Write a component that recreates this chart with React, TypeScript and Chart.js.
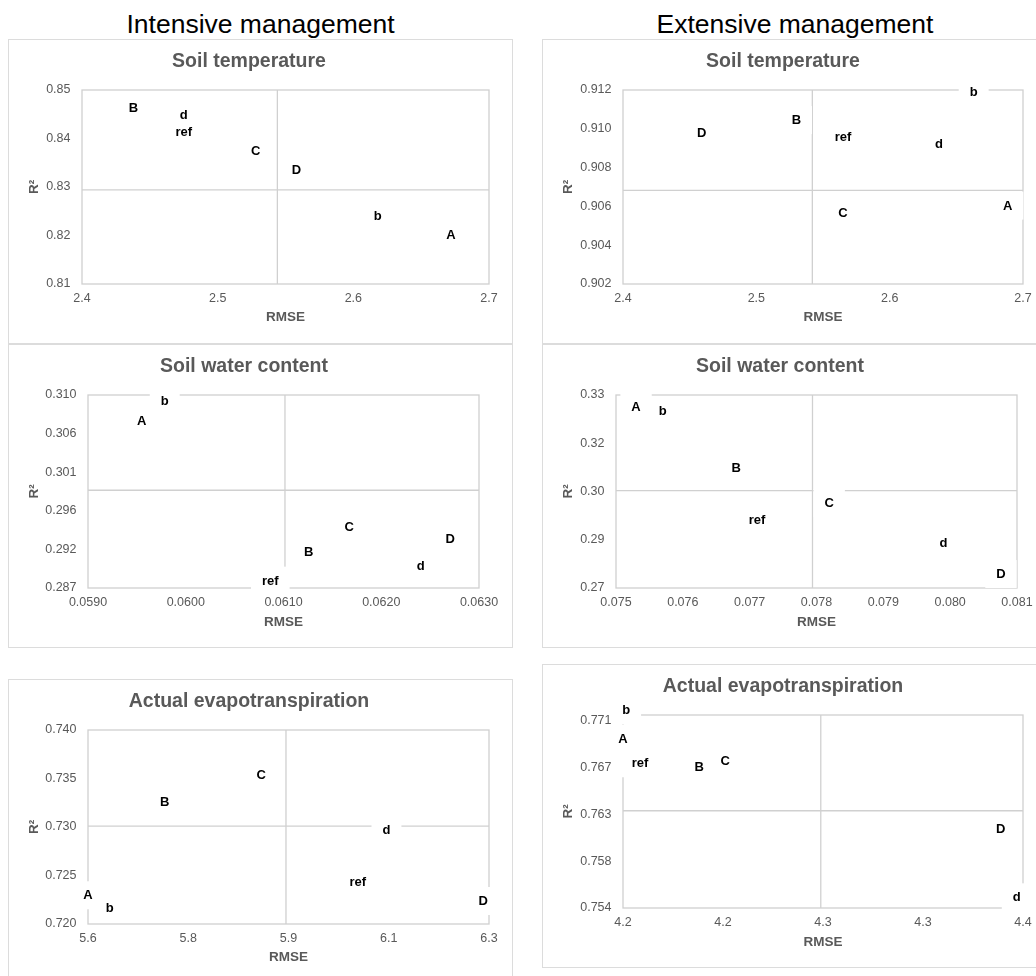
import React, { useEffect, useRef } from "react";
import { Chart, registerables } from "chart.js";

Chart.register(...registerables);

const FONT = '"Liberation Sans", Arial, Helvetica, sans-serif';

// point names, same order in every panel
const pointNames = ["ref", "A", "b", "B", "C", "d", "D"];

// ---------- Intensive management ----------
// Soil temperature
const stIntRmse = [2.475, 2.672, 2.618, 2.438, 2.528, 2.475, 2.558];
const stIntR2 = [0.8413, 0.8202, 0.824, 0.8464, 0.8374, 0.8448, 0.8335];
const stIntCross = [2.544, 0.8294];
const stIntXRange = [2.4, 2.7];
const stIntYRange = [0.81, 0.85];
const stIntXTicks = [2.4, 2.5, 2.6, 2.7];
const stIntXTickLabels = ["2.4", "2.5", "2.6", "2.7"];
const stIntYTicks = [0.81, 0.82, 0.83, 0.84, 0.85];
const stIntYTickLabels = ["0.81", "0.82", "0.83", "0.84", "0.85"];

// Soil water content
const swcIntRmse = [0.060865, 0.059549, 0.059785, 0.061258, 0.061673, 0.062404, 0.062706];
const swcIntR2 = [0.28774, 0.3071, 0.30956, 0.29121, 0.29425, 0.28948, 0.29279];
const swcIntCross = [0.061015, 0.2987];
const swcIntXRange = [0.059, 0.063];
const swcIntYRange = [0.28685, 0.31025];
const swcIntXTicks = [0.059, 0.06, 0.061, 0.062, 0.063];
const swcIntXTickLabels = ["0.0590", "0.0600", "0.0610", "0.0620", "0.0630"];
const swcIntYTicks = [0.28685, 0.29153, 0.29621, 0.30089, 0.30557, 0.31025];
const swcIntYTickLabels = ["0.287", "0.292", "0.296", "0.301", "0.306", "0.310"];

// Actual evapotranspiration
const aetIntRmse = [6.071, 5.6, 5.638, 5.734, 5.9025, 6.121, 6.29];
const aetIntR2 = [0.7243, 0.72296, 0.72162, 0.73255, 0.73536, 0.72966, 0.72237];
const aetIntCross = [5.9456, 0.7301];
const aetIntXRange = [5.6, 6.3];
const aetIntYRange = [0.72, 0.74];
const aetIntXTicks = [5.6, 5.775, 5.95, 6.125, 6.3];
const aetIntXTickLabels = ["5.6", "5.8", "5.9", "6.1", "6.3"];
const aetIntYTicks = [0.72, 0.725, 0.73, 0.735, 0.74];
const aetIntYTickLabels = ["0.720", "0.725", "0.730", "0.735", "0.740"];

// ---------- Extensive management ----------
// Soil temperature
const stExtRmse = [2.565, 2.6885, 2.663, 2.53, 2.565, 2.637, 2.459];
const stExtR2 = [0.90958, 0.90604, 0.91188, 0.91045, 0.90568, 0.9092, 0.90977];
const stExtCross = [2.542, 0.90683];
const stExtXRange = [2.4, 2.7];
const stExtYRange = [0.902, 0.912];
const stExtXTicks = [2.4, 2.5, 2.6, 2.7];
const stExtXTickLabels = ["2.4", "2.5", "2.6", "2.7"];
const stExtYTicks = [0.902, 0.904, 0.906, 0.908, 0.91, 0.912];
const stExtYTickLabels = ["0.902", "0.904", "0.906", "0.908", "0.910", "0.912"];

// Soil water content
const swcExtRmse = [0.07711, 0.0753, 0.0757, 0.0768, 0.07819, 0.0799, 0.08076];
const swcExtR2 = [0.29104, 0.32636, 0.32493, 0.30731, 0.29642, 0.28389, 0.27435];
const swcExtCross = [0.07794, 0.30025];
const swcExtXRange = [0.075, 0.081];
const swcExtYRange = [0.27, 0.33];
const swcExtXTicks = [0.075, 0.076, 0.077, 0.078, 0.079, 0.08, 0.081];
const swcExtXTickLabels = ["0.075", "0.076", "0.077", "0.078", "0.079", "0.080", "0.081"];
const swcExtYTicks = [0.27, 0.285, 0.3, 0.315, 0.33];
const swcExtYTickLabels = ["0.27", "0.29", "0.30", "0.32", "0.33"];

// Actual evapotranspiration
const aetExtRmse = [4.2077, 4.2, 4.2014, 4.2343, 4.246, 4.3772, 4.37];
const aetExtR2 = [0.76714, 0.76937, 0.77195, 0.7668, 0.76734, 0.75497, 0.76117];
const aetExtCross = [4.289, 0.76283];
const aetExtXRange = [4.2, 4.38];
const aetExtYRange = [0.754, 0.77152];
const aetExtXTicks = [4.2, 4.245, 4.29, 4.335, 4.38];
const aetExtXTickLabels = ["4.2", "4.2", "4.3", "4.3", "4.4"];
const aetExtYTicks = [0.754, 0.75825, 0.7625, 0.76675, 0.771];
const aetExtYTickLabels = ["0.754", "0.758", "0.763", "0.767", "0.771"];

type Panel = {
  title: string;
  rmse: number[];
  r2: number[];
  cross: number[];
  xRange: number[];
  yRange: number[];
  xTicks: number[];
  xTickLabels: string[];
  yTicks: number[];
  yTickLabels: string[];
  box: { left: number; top: number; w: number; h: number };
  plot: { l: number; r: number; b: number };
};

const CANVAS_W = 503;
const CANVAS_H = 300;
const PLOT_TOP = 50;

const panels: Panel[] = [
  {
    title: "Soil temperature", rmse: stIntRmse, r2: stIntR2, cross: stIntCross,
    xRange: stIntXRange, yRange: stIntYRange, xTicks: stIntXTicks, xTickLabels: stIntXTickLabels,
    yTicks: stIntYTicks, yTickLabels: stIntYTickLabels,
    box: { left: 8, top: 39, w: 505, h: 305 }, plot: { l: 73, r: 480, b: 244 },
  },
  {
    title: "Soil water content", rmse: swcIntRmse, r2: swcIntR2, cross: swcIntCross,
    xRange: swcIntXRange, yRange: swcIntYRange, xTicks: swcIntXTicks, xTickLabels: swcIntXTickLabels,
    yTicks: swcIntYTicks, yTickLabels: swcIntYTickLabels,
    box: { left: 8, top: 344, w: 505, h: 304 }, plot: { l: 79, r: 470, b: 243 },
  },
  {
    title: "Actual evapotranspiration", rmse: aetIntRmse, r2: aetIntR2, cross: aetIntCross,
    xRange: aetIntXRange, yRange: aetIntYRange, xTicks: aetIntXTicks, xTickLabels: aetIntXTickLabels,
    yTicks: aetIntYTicks, yTickLabels: aetIntYTickLabels,
    box: { left: 8, top: 679, w: 505, h: 310 }, plot: { l: 79, r: 480, b: 244 },
  },
  {
    title: "Soil temperature", rmse: stExtRmse, r2: stExtR2, cross: stExtCross,
    xRange: stExtXRange, yRange: stExtYRange, xTicks: stExtXTicks, xTickLabels: stExtXTickLabels,
    yTicks: stExtYTicks, yTickLabels: stExtYTickLabels,
    box: { left: 542, top: 39, w: 505, h: 305 }, plot: { l: 80, r: 480, b: 244 },
  },
  {
    title: "Soil water content", rmse: swcExtRmse, r2: swcExtR2, cross: swcExtCross,
    xRange: swcExtXRange, yRange: swcExtYRange, xTicks: swcExtXTicks, xTickLabels: swcExtXTickLabels,
    yTicks: swcExtYTicks, yTickLabels: swcExtYTickLabels,
    box: { left: 542, top: 344, w: 505, h: 304 }, plot: { l: 73, r: 474, b: 243 },
  },
  {
    title: "Actual evapotranspiration", rmse: aetExtRmse, r2: aetExtR2, cross: aetExtCross,
    xRange: aetExtXRange, yRange: aetExtYRange, xTicks: aetExtXTicks, xTickLabels: aetExtXTickLabels,
    yTicks: aetExtYTicks, yTickLabels: aetExtYTickLabels,
    box: { left: 542, top: 664, w: 505, h: 304 }, plot: { l: 80, r: 480, b: 243 },
  },
];

const LINE_COLOR = "#d0d0d0";
const TEXT_GRAY = "#595959";

function makeQuadPlugin(names: string[]) {
  return {
    id: "quadLabels",
    beforeDatasetsDraw(chart: any) {
      const { ctx, chartArea: a } = chart;
      ctx.save();
      ctx.strokeStyle = LINE_COLOR;
      ctx.lineWidth = 1.3;
      ctx.strokeRect(a.left, a.top, a.right - a.left, a.bottom - a.top);
      ctx.restore();
    },
    afterDatasetsDraw(chart: any) {
      const { ctx } = chart;
      const meta = chart.getDatasetMeta(0);
      ctx.save();
      ctx.font = `bold 13px ${FONT}`;
      ctx.textAlign = "center";
      ctx.textBaseline = "middle";
      // white label boxes first
      meta.data.forEach((el: any, i: number) => {
        const w = ctx.measureText(names[i]).width + 22;
        ctx.fillStyle = "#ffffff";
        ctx.fillRect(el.x - w / 2, el.y - 14, w, 28);
      });
      ctx.fillStyle = "#000000";
      meta.data.forEach((el: any, i: number) => {
        ctx.fillText(names[i], el.x, el.y + 0.5);
      });
      ctx.restore();
    },
  };
}

function PanelChart({ p }: { p: Panel }) {
  const ref = useRef<HTMLCanvasElement | null>(null);
  useEffect(() => {
    if (!ref.current) return;
    const pts = p.rmse.map((x, i) => ({ x, y: p.r2[i] }));
    const chart = new Chart(ref.current, {
      type: "scatter",
      data: {
        datasets: [
          { data: pts, pointRadius: 0, pointHoverRadius: 0, showLine: false },
          {
            type: "line",
            data: [
              { x: p.xRange[0], y: p.cross[1] },
              { x: p.xRange[1], y: p.cross[1] },
            ],
            borderColor: LINE_COLOR,
            borderWidth: 1.3,
            pointRadius: 0,
            fill: false,
          } as any,
          {
            type: "line",
            data: [
              { x: p.cross[0], y: p.yRange[0] },
              { x: p.cross[0], y: p.yRange[1] },
            ],
            borderColor: LINE_COLOR,
            borderWidth: 1.3,
            pointRadius: 0,
            fill: false,
          } as any,
        ],
      },
      options: {
        responsive: false,
        animation: false,
        events: [],
        layout: { padding: { left: 0, top: 0, bottom: 0, right: CANVAS_W - p.plot.r } },
        plugins: {
          legend: { display: false },
          tooltip: { enabled: false },
          title: {
            display: true,
            text: p.title,
            color: TEXT_GRAY,
            font: { family: FONT, size: 19.5, weight: "bold", lineHeight: 1.2 },
            padding: { top: 9.8, bottom: 16.8 },
          },
        },
        scales: {
          x: {
            type: "linear",
            min: p.xRange[0],
            max: p.xRange[1],
            afterBuildTicks: (s: any) => {
              s.ticks = p.xTicks.map((v) => ({ value: v }));
            },
            afterFit: (s: any) => {
              s.height = CANVAS_H - p.plot.b;
            },
            grid: { display: false, drawTicks: false },
            border: { display: false },
            ticks: {
              autoSkip: false,
              maxRotation: 0,
              padding: 7.5,
              color: TEXT_GRAY,
              font: { family: FONT, size: 12.5, lineHeight: 1.2 },
              callback: (_v: any, i: number) => p.xTickLabels[i],
            },
            title: {
              display: true,
              text: "RMSE",
              color: TEXT_GRAY,
              font: { family: FONT, size: 13.5, weight: "bold", lineHeight: 1.2 },
              padding: { top: 0, bottom: 14.4 },
            },
          },
          y: {
            type: "linear",
            min: p.yRange[0],
            max: p.yRange[1],
            afterBuildTicks: (s: any) => {
              s.ticks = p.yTicks.map((v) => ({ value: v }));
            },
            afterFit: (s: any) => {
              s.width = p.plot.l;
            },
            grid: { display: false, drawTicks: false },
            border: { display: false },
            ticks: {
              autoSkip: false,
              padding: 11.5,
              color: TEXT_GRAY,
              font: { family: FONT, size: 12.5, lineHeight: 1.2 },
              callback: (_v: any, i: number) => p.yTickLabels[i],
            },
            title: {
              display: true,
              text: "R²",
              color: TEXT_GRAY,
              font: { family: FONT, size: 13.5, weight: "bold", lineHeight: 1.2 },
              padding: { top: 16.9, bottom: 0 },
            },
          },
        },
      } as any,
      plugins: [makeQuadPlugin(pointNames)],
    });
    return () => chart.destroy();
  }, [p]);

  return (
    <div
      style={{
        position: "absolute",
        left: p.box.left,
        top: p.box.top,
        width: p.box.w,
        height: p.box.h,
        border: "1px solid #dcdcdc",
        boxSizing: "border-box",
        background: "#ffffff",
      }}
    >
      <canvas
        ref={ref}
        width={CANVAS_W}
        height={CANVAS_H}
        style={{ position: "absolute", left: 0, top: 0, width: CANVAS_W, height: CANVAS_H }}
      />
    </div>
  );
}

const colTitle: React.CSSProperties = {
  position: "absolute",
  top: 8.5,
  fontFamily: FONT,
  fontSize: 26.5,
  lineHeight: "30px",
  color: "#000000",
  textAlign: "center",
  whiteSpace: "nowrap",
};

export default function App() {
  return (
    <div
      style={{
        position: "absolute",
        left: 0,
        top: 0,
        width: 1036,
        height: 976,
        overflow: "hidden",
        background: "#ffffff",
      }}
    >
      <div style={{ ...colTitle, left: 0, width: 521 }}>Intensive management</div>
      <div style={{ ...colTitle, left: 545, width: 500 }}>Extensive management</div>
      {panels.map((p, i) => (
        <PanelChart key={i} p={p} />
      ))}
    </div>
  );
}
